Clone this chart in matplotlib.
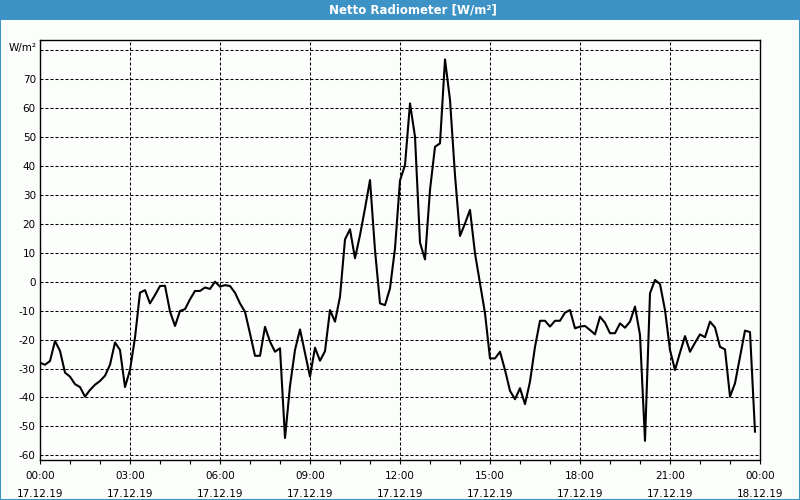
import pandas as pd
import matplotlib
matplotlib.use('Agg')
import matplotlib.pyplot as plt
import matplotlib.dates as mdates
from matplotlib.patches import Rectangle

# 10 minute readings, 17.12.19 00:00 - 23:50
start = '2019-12-17 00:00'
values = [
    -28, -28.7, -27.4, -20.5, -23.9, -31.4, -32.8, -35.4, -36.4, -39.7,
    -37.4, -35.6, -34.3, -32.5, -28.7, -21, -23.6, -36.4, -30.5, -19.3,
    -3.8, -2.9, -7.5, -4.6, -1.5, -1.4, -10.3, -15.3, -10.1, -9.5,
    -6.1, -3.2, -3.2, -2.0, -2.5, 0, -1.7, -1.2, -1.5, -3.8,
    -7.5, -10.4, -17.9, -25.6, -25.6, -15.6, -20.7, -24.2, -23, -54,
    -36, -23.6, -16.5, -24.6, -32.8, -22.8, -27.3, -24, -9.8, -13.8,
    -5.2, 14.6, 18.1, 8.1, 16.1, 25.3, 35.1, 10.9, -7.5, -8.1,
    -2.3, 11.5, 35, 40.3, 61.6, 50.1, 13.5, 7.7, 31.7, 46.6,
    47.8, 76.8, 62.8, 36.8, 15.8, 20.1, 24.8, 9.8, -0.6, -10.9,
    -26.5, -26.5, -24.2, -30.5, -37.7, -40.6, -36.8, -42.3, -34.5, -22.5,
    -13.5, -13.5, -15.5, -13.5, -13.5, -10.7, -9.8, -16.1, -15.5, -15.3,
    -16.7, -18.2, -12.1, -14.2, -17.8, -17.8, -14.4, -15.9, -13.8, -8.6,
    -18.4, -55, -4, 0.6, -0.8, -9.8, -23.6, -30.5, -24.5, -18.8,
    -24.2, -21.1, -18.2, -19.2, -13.8, -15.8, -22.5, -23.4, -39.7, -35.1,
    -26.1, -16.9, -17.4, -51.8,
]
times = pd.date_range(start, periods=len(values), freq='10min')

y_ticks = list(range(-60, 90, 10))
y_tick_labels = [str(v) if v < 80 else '' for v in y_ticks]

blue = '#3d93c5'
bg = '#fcfefc'

fig = plt.figure(figsize=(8, 5), dpi=100, facecolor=bg)

# title band + thin frame
fig.patches.append(Rectangle((0, 0.96), 1, 0.04, transform=fig.transFigure,
                             facecolor=blue, edgecolor='none', zorder=0))
fig.patches.append(Rectangle((0.0006, 0.001), 0.9988, 0.998, transform=fig.transFigure,
                             facecolor='none', edgecolor=blue, linewidth=1.5, zorder=1))
fig.text(0.516, 0.98, 'Netto Radiometer [W/m²]', color='white', fontsize=8.5,
         fontweight='bold', ha='center', va='center')

ax = fig.add_axes([0.05, 0.08, 0.9, 0.84])
ax.set_facecolor(bg)
ax.plot(times, values, color='black', linewidth=1.5, zorder=3)

ax.set_xlim(pd.Timestamp('2019-12-17 00:00'), pd.Timestamp('2019-12-18 00:00'))
ax.set_ylim(-61.6, 83.5)

ax.xaxis.set_major_locator(mdates.HourLocator(byhour=range(0, 24, 3)))
ax.xaxis.set_minor_locator(mdates.HourLocator())
ax.xaxis.set_major_formatter(mdates.DateFormatter('%H:%M\n%d.%m.%y'))
ax.set_yticks(y_ticks)
ax.set_yticklabels(y_tick_labels)

ax.tick_params(axis='x', which='both', direction='out', length=3, width=0.8,
               labelsize=7.5, pad=5)
ax.tick_params(axis='y', length=0, labelsize=7.5, pad=3)
for lbl in ax.get_xticklabels():
    lbl.set_linespacing(2.0)

ax.grid(True, which='major', color='black', linestyle=(0, (2.9, 1.9)), linewidth=0.75)
for s in ax.spines.values():
    s.set_color('black')
    s.set_linewidth(1.0)

fig.text(0.046, 0.905, 'W/m²', fontsize=7.5, ha='right', va='center')

fig.savefig('out.png', dpi=100, facecolor=bg)
